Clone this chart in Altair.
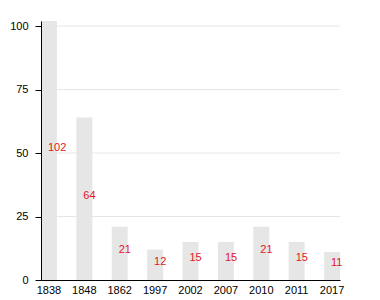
import altair as alt
import pandas as pd

years = ["1838", "1848", "1862", "1997", "2002", "2007", "2010", "2011", "2017"]
values = [102, 64, 21, 12, 15, 15, 21, 15, 11]
y_ticks = [0, 25, 50, 75, 100]

df = pd.DataFrame({"year": years, "value": values})
df["half"] = df["value"] / 2
grid_df = pd.DataFrame({"tick": y_ticks[1:]})

yscale = alt.Scale(domain=[0, 102], nice=False)

x = alt.X("year:N", sort=years, title=None,
          scale=alt.Scale(paddingInner=0.55, paddingOuter=0),
          axis=alt.Axis(labelAngle=0, ticks=False, labelPadding=4, domainColor="#000",
                        labelColor="#000", labelFont="Liberation Sans", labelFontSize=11,
                        zindex=1, grid=False))

grid = alt.Chart(grid_df).mark_rule(color="#e6e6e6", strokeWidth=1).encode(
    y=alt.Y("tick:Q", scale=yscale),
)

bars = alt.Chart(df).mark_bar(color="#e6e6e6").encode(
    x=x,
    y=alt.Y("value:Q", title=None, scale=yscale,
            axis=alt.Axis(values=y_ticks, tickSize=6, tickColor="#000",
                          domainColor="#000", grid=False, labelPadding=7,
                          labelColor="#000", labelFont="Liberation Sans", labelFontSize=11,
                          zindex=1)),
)

labels = alt.Chart(df).mark_text(color="#e4151f", align="left", baseline="middle",
                                 dx=-1, dy=-3, font="Liberation Sans", fontSize=11).encode(
    x=alt.X("year:N", sort=years),
    y=alt.Y("half:Q"),
    text=alt.Text("value:Q"),
)

chart = (grid + bars + labels).properties(
    width=299, height=259,
    autosize=alt.AutoSizeParams(type="none"),
    padding={"left": 41, "top": 21, "right": 40, "bottom": 20},
).configure_view(stroke=None)

chart.save("out.html", embed_options={"renderer": "svg", "actions": False})
